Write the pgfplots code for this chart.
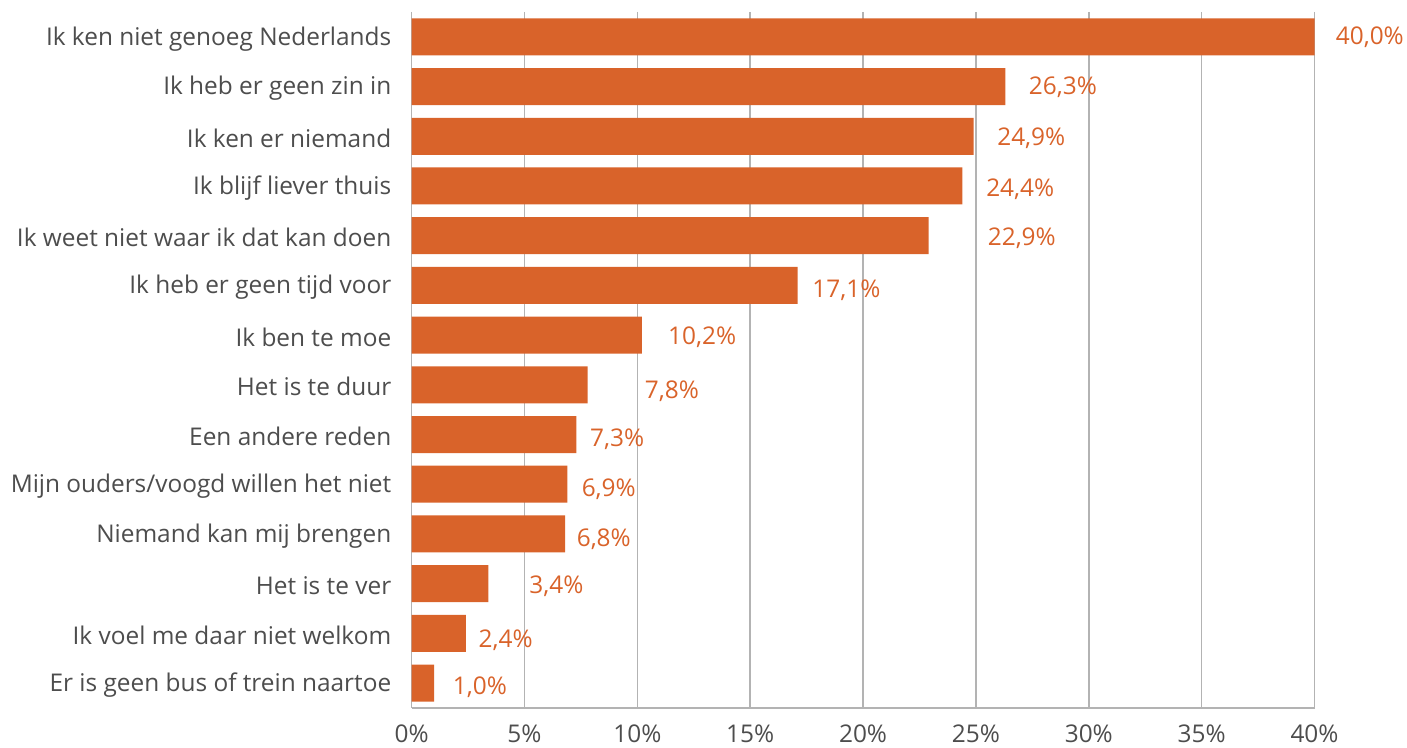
\documentclass[border=0pt]{standalone}
\usepackage{fontspec}
\setmainfont{Open Sans}
\usepackage{pgfplots}
\usepackage{pgfplotstable}
\pgfplotsset{compat=1.18}

\definecolor{barorange}{HTML}{D9632A}
\definecolor{txtgray}{HTML}{4D4D4D}
\definecolor{gridgray}{HTML}{B3B3B3}

% pos = category row, val = share in %, labx/laby = where the value label sits
\pgfplotstableread{
pos val  labx  laby
0   40.0 40.93 0.01
1   26.3 27.33 0.01
2   24.9 25.93 0.04
3   24.4 25.44 0.06
4   22.9 25.51 0.06
5   17.1 17.74 0.09
6   10.2 11.35 0.05
7   7.8  10.32 0.13
8   7.3  7.89  0.09
9   6.9  7.52  0.11
10  6.8  7.30  0.11
11  3.4  5.20  0.05
12  2.4  2.95  0.13
13  1.0  1.81  0.09
}\redenen

\begin{document}
\begin{tikzpicture}[font=\fontsize{12.2pt}{14pt}\selectfont]
\begin{axis}[
  scale only axis,
  width=451.5pt, height=348pt,
  xmin=0, xmax=40,
  ymin=-0.5, ymax=13.5,
  y dir=reverse,
  axis x line*=bottom,
  axis y line*=left,
  axis line style={-, draw=gridgray, line width=0.8pt},
  xmajorgrids,
  major grid style={draw=gridgray, line width=0.8pt},
  major tick length=0pt,
  xtick={0,5,...,40},
  xticklabel={\pgfmathprintnumber{\tick}\%},
  ytick={0,...,13},
  yticklabels={
    Ik ken niet genoeg Nederlands,
    Ik heb er geen zin in,
    Ik ken er niemand,
    Ik blijf liever thuis,
    Ik weet niet waar ik dat kan doen,
    Ik heb er geen tijd voor,
    Ik ben te moe,
    Het is te duur,
    Een andere reden,
    Mijn ouders/voogd willen het niet,
    Niemand kan mij brengen,
    Het is te ver,
    Ik voel me daar niet welkom,
    Er is geen bus of trein naartoe},
  tick label style={text=txtgray, inner sep=0pt},
  yticklabel style={xshift=-10pt, yshift=-1pt},
  xticklabel style={yshift=-8.5pt},
  /pgf/number format/assume math mode=true,
  clip=false,
]
\addplot[xbar, bar width=18.5pt, fill=barorange, draw=none]
  table[x=val, y=pos] {\redenen};
\addplot[draw=none, mark=none,
  point meta=explicit,
  nodes near coords={\pgfmathprintnumber[fixed, fixed zerofill, precision=1, use comma]{\pgfplotspointmeta}\%},
  nodes near coords style={anchor=west, inner sep=0pt, text=barorange}]
  table[x=labx, y expr=\thisrow{pos}+\thisrow{laby}, meta=val] {\redenen};
\end{axis}
\pgfresetboundingbox
\path[use as bounding box]
  ([shift={(-205.85pt,-20pt)}]current axis.south west)
  rectangle ([shift={(46.25pt,6pt)}]current axis.north east);
\end{tikzpicture}
\end{document}
